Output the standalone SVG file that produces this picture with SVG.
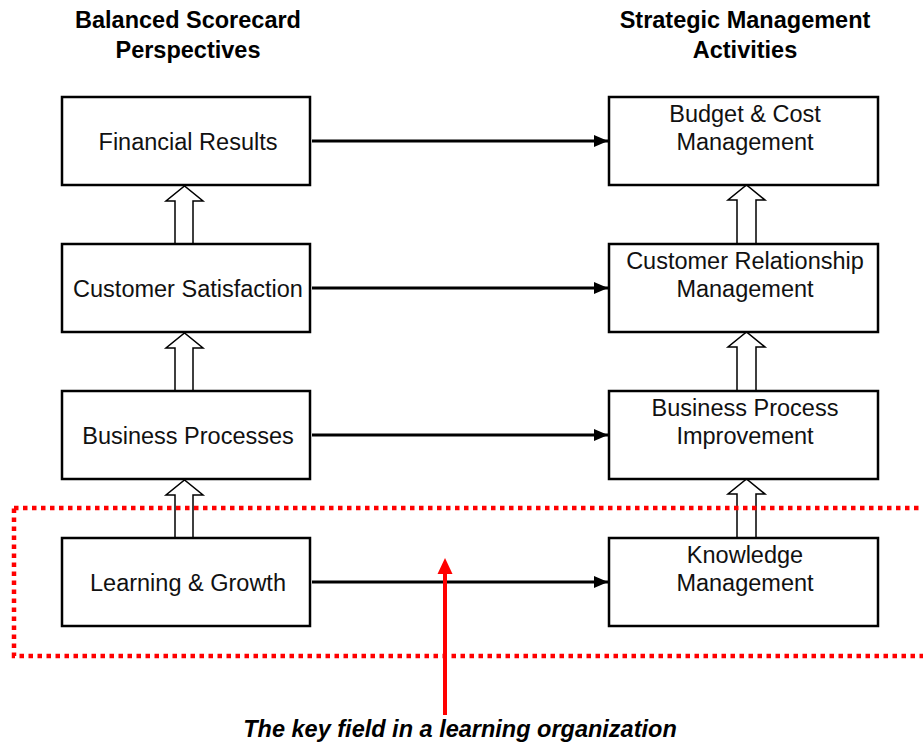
<svg xmlns="http://www.w3.org/2000/svg" width="923" height="745" viewBox="0 0 923 745">
<style>
.box{fill:#fff;stroke:#000;stroke-width:2.5}
.t{font-family:"Liberation Sans",Arial,sans-serif;font-size:23.5px;fill:#111;text-anchor:middle}
.h{font-family:"Liberation Sans",Arial,sans-serif;font-size:23.5px;font-weight:bold;fill:#000;text-anchor:middle}
.ln{stroke:#000;stroke-width:3;fill:none}
.blk{fill:#fff;stroke:#000;stroke-width:1.5;stroke-linejoin:miter}
</style>
<defs>
<marker id="ah" markerWidth="14" markerHeight="12" refX="14" refY="6" orient="auto" markerUnits="userSpaceOnUse">
<path d="M0,0 L14,6 L0,12 Z" fill="#000"/>
</marker>
</defs>
<rect width="923" height="745" fill="#fff"/>
<g id="headings">
<text class="h" x="188" y="28">Balanced Scorecard</text>
<text class="h" x="188" y="58">Perspectives</text>
<text class="h" x="745" y="28">Strategic Management</text>
<text class="h" x="745" y="58">Activities</text>
</g>
<g id="connectors">
<line class="ln" x1="312" y1="141" x2="608" y2="141" marker-end="url(#ah)"/>
<line class="ln" x1="312" y1="288" x2="608" y2="288" marker-end="url(#ah)"/>
<line class="ln" x1="312" y1="435" x2="608" y2="435" marker-end="url(#ah)"/>
<line class="ln" x1="312" y1="582" x2="608" y2="582" marker-end="url(#ah)"/>
<path class="blk" d="M175,244 V201 H166 L184.5,186 L203,201 H193 V244 Z"/>
<path class="blk" d="M175,391 V348 H166 L184.5,333 L203,348 H193 V391 Z"/>
<path class="blk" d="M175,538 V495 H166 L184.5,480 L203,495 H193 V538 Z"/>
<path class="blk" d="M737,244 V200 H728 L746.5,185 L765,200 H756 V244 Z"/>
<path class="blk" d="M737,391 V347 H728 L746.5,332 L765,347 H756 V391 Z"/>
<path class="blk" d="M737,538 V494 H728 L746.5,479 L765,494 H756 V538 Z"/>
</g>
<g id="financial"><rect class="box" x="62" y="97" width="248" height="88"/><text class="t" x="188" y="150">Financial Results</text></g>
<g id="customer"><rect class="box" x="62" y="244" width="248" height="88"/><text class="t" x="188" y="297">Customer Satisfaction</text></g>
<g id="processes"><rect class="box" x="62" y="391" width="248" height="88"/><text class="t" x="188" y="444">Business Processes</text></g>
<g id="learning"><rect class="box" x="62" y="538" width="248" height="88"/><text class="t" x="188" y="591">Learning &amp; Growth</text></g>
<g id="budget"><rect class="box" x="609" y="97" width="269" height="88"/><text class="t" x="745" y="122">Budget &amp; Cost</text><text class="t" x="745" y="150">Management</text></g>
<g id="crm"><rect class="box" x="609" y="244" width="269" height="88"/><text class="t" x="745" y="269">Customer Relationship</text><text class="t" x="745" y="297">Management</text></g>
<g id="bpi"><rect class="box" x="609" y="391" width="269" height="88"/><text class="t" x="745" y="416">Business Process</text><text class="t" x="745" y="444">Improvement</text></g>
<g id="km"><rect class="box" x="609" y="538" width="269" height="88"/><text class="t" x="745" y="563">Knowledge</text><text class="t" x="745" y="591">Management</text></g>
<g id="highlight">
<rect x="14" y="508" width="930" height="148" fill="none" stroke="#f00" stroke-width="4.5" stroke-dasharray="4.5 4.5"/>
<line x1="445" y1="715" x2="445" y2="572" stroke="#f00" stroke-width="4"/>
<path d="M437.5,574 L445,558 L452.5,574 Z" fill="#f00"/>
<text x="460" y="737" font-family="Liberation Sans,Arial,sans-serif" font-size="23.5" font-weight="bold" font-style="italic" text-anchor="middle" fill="#000">The key field in a learning organization</text>
</g>
</svg>
